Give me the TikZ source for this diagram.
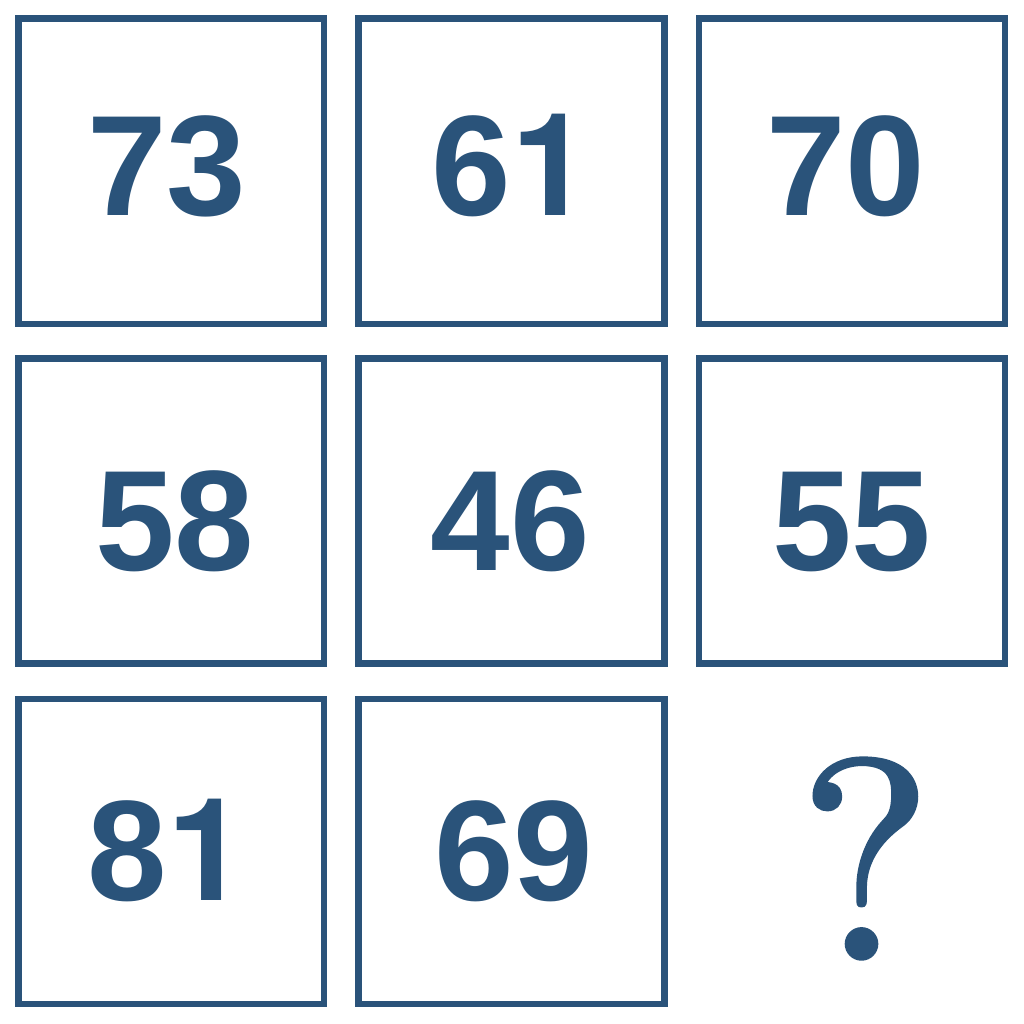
\documentclass[tikz,border=0pt]{standalone}
\usepackage{fontspec}
\newfontfamily\numfont{Liberation Sans}
\newfontfamily\onefont{TeX Gyre Heros}
\newfontfamily\qfont{lmroman10-regular.otf}[FakeBold=1.2]
\definecolor{navy}{RGB}{42,83,122}
\tikzset{
  cell/.style={draw=navy, line width=6.5pt},
  num/.style={anchor=base, inner sep=0pt, text=navy, font=\numfont\bfseries\fontsize{143}{143}\selectfont},
  qmark/.style={anchor=base, inner sep=0pt, text=navy, font=\qfont\fontsize{285}{285}\selectfont}
}
\begin{document}
\begin{tikzpicture}[x=1pt,y=-1pt]
\useasboundingbox (0,0) rectangle (1024,1024);
\fill[white] (0,0) rectangle (1024,1024);
% boxes
\draw[cell] (18.7,18.7) rectangle (324,324);
\draw[cell] (358.5,18.7) rectangle (664.5,324);
\draw[cell] (699,18.7) rectangle (1005,324);
\draw[cell] (18.7,358.5) rectangle (324,663.5);
\draw[cell] (358.5,358.5) rectangle (664.5,663.5);
\draw[cell] (699,358.5) rectangle (1005,663.5);
\draw[cell] (18.7,699) rectangle (324,1004);
\draw[cell] (358.5,699) rectangle (664.5,1004);
% numbers
\node[num] (n73) at (166.7,215) {73};
\node[num] (n61) at (511.5,215) {6{\onefont\bfseries 1}};
\node[num] (n70) at (846,215) {70};
\node[num] (n58) at (175,570) {58};
\node[num] (n46) at (510.5,570) {46};
\node[num] (n55) at (852,570) {55};
\node[num] (n81) at (167,900) {8{\onefont\bfseries 1}};
\node[num] (n69) at (514,900) {69};
\node[qmark] (q) at (865.5,959) {?};
\end{tikzpicture}
\end{document}
